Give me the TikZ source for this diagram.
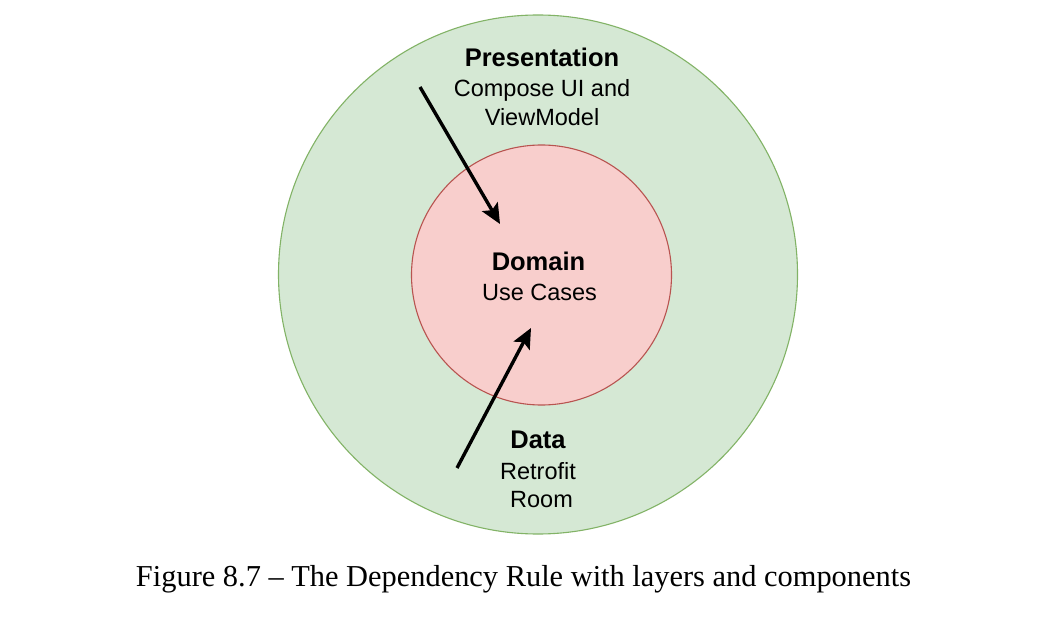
\documentclass[tikz,border=0pt]{standalone}
\usepackage{fontspec}
\setmainfont{Liberation Serif}
\newfontfamily\lsans{Liberation Sans}
\usetikzlibrary{arrows.meta}
\definecolor{gfill}{HTML}{D5E8D4}
\definecolor{gline}{HTML}{82B366}
\definecolor{rfill}{HTML}{F8CECC}
\definecolor{rline}{HTML}{B85450}
\begin{document}
\begin{tikzpicture}[x=1pt,y=-1pt,
  layer/.style={circle, inner sep=0pt, line width=1.1pt},
  title/.style={font=\lsans\fontsize{25.5}{30}\bfseries\selectfont, anchor=base, inner sep=0pt},
  sub/.style={font=\lsans\fontsize{23.5}{28}\selectfont, anchor=base, inner sep=0pt},
  dep/.style={line width=3.4pt, -{Stealth[length=20pt, width=18pt, inset=4pt]}}]
\useasboundingbox (0,0) rectangle (1064,620);
\fill[white] (0,0) rectangle (1064,620);
\node[layer, draw=gline, fill=gfill, minimum size=519pt] (outer) at (538,274.5) {};
\node[layer, draw=rline, fill=rfill, minimum size=260pt] (inner) at (541.5,275) {};
\node[title] (pres) at (542,67) {Presentation};
\node[sub] (pres1) at (542,97) {Compose UI and};
\node[sub] (pres2) at (542,126) {ViewModel};
\node[title] (dom) at (538.5,270) {Domain};
\node[sub] (dom1) at (539.5,300) {Use Cases};
\node[title] (data) at (538,448) {Data};
\node[sub] (data1) at (538,479) {Retrofit};
\node[sub] (data2) at (541.5,507) {Room};
\coordinate (a1s) at (420,87);
\coordinate (a1e) at (500,224);
\coordinate (a2s) at (457,468);
\coordinate (a2e) at (531,328);
\draw[dep] (a1s) -- (a1e);
\draw[dep] (a2s) -- (a2e);
\node[anchor=base, inner sep=0pt, font=\fontsize{30.4}{36}\selectfont] (cap) at (523.5,586) {Figure 8.7 – The Dependency Rule with layers and components};
\end{tikzpicture}
\end{document}
